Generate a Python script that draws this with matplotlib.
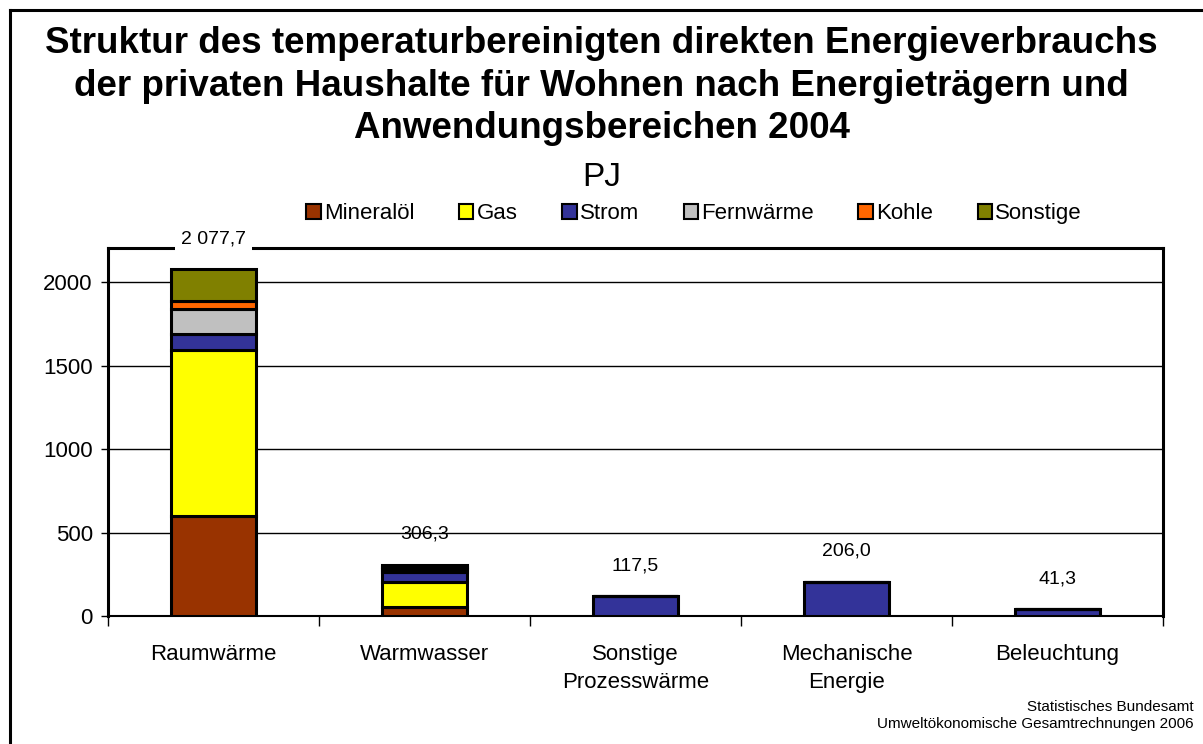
import numpy as np
import matplotlib.pyplot as plt
from matplotlib.patches import Rectangle
from matplotlib.lines import Line2D

plt.rcParams['font.family'] = ['Liberation Sans', 'DejaVu Sans']

# data (PJ)
categories = ["Raumwärme", "Warmwasser", "Sonstige\nProzesswärme", "Mechanische\nEnergie", "Beleuchtung"]
carriers = ["Mineralöl", "Gas", "Strom", "Fernwärme", "Kohle", "Sonstige"]
mineraloel = [599.0, 52.0, 0.0, 0.0, 0.0]
gas = [994.0, 150.0, 0.0, 0.0, 0.0]
strom = [96.0, 62.0, 117.5, 206.0, 41.3]
fernwaerme = [150.0, 20.0, 0.0, 0.0, 0.0]
kohle = [48.0, 8.0, 0.0, 0.0, 0.0]
sonstige = [190.7, 14.3, 0.0, 0.0, 0.0]
totals = [2077.7, 306.3, 117.5, 206.0, 41.3]
total_labels = ["2 077,7", "306,3", "117,5", "206,0", "41,3"]

colors = ["#993300", "#FFFF00", "#333399", "#C0C0C0", "#FF6600", "#808000"]
series = [mineraloel, gas, strom, fernwaerme, kohle, sonstige]

fig = plt.figure(figsize=(12.03, 7.44), dpi=100)
ax = fig.add_axes([0.0898, 0.172, 0.877, 0.4946])

y_top = 2204

x = np.arange(len(categories))
bottom = np.zeros(len(categories))
for name, vals, col in zip(carriers, series, colors):
    vals = np.array(vals)
    ax.bar(x, vals, width=0.4, bottom=bottom, color=col, edgecolor="black",
           linewidth=2.2, label=name, zorder=3)
    bottom += vals

# totals above the bars; the one that reaches over the frame gets a white box
for xi, t, lab in zip(x, totals, total_labels):
    box = None
    if t > 0.85 * y_top:
        box = dict(facecolor="white", edgecolor="none", pad=4)
    ax.annotate(lab, (xi, t), xytext=(0, 22), textcoords="offset points",
                ha="center", va="center", fontsize=14, zorder=6,
                bbox=box, annotation_clip=False)

ax.set_xlim(-0.5, 4.5)
ax.set_ylim(0, y_top)
ax.set_yticks([0, 500, 1000, 1500, 2000])
ax.yaxis.grid(True, color="black", linewidth=1.0, zorder=0)
ax.set_axisbelow(True)

ax.set_xticks(x)
ax.set_xticklabels(categories, fontsize=16, linespacing=1.45)
ax.set_xticks(np.arange(-0.5, 5.0, 1.0), minor=True)
ax.tick_params(axis="x", which="major", length=0, pad=20)
ax.tick_params(axis="x", which="minor", length=7, width=1.0, direction="out")
ax.tick_params(axis="y", labelsize=16, length=5, width=1.0, direction="out", pad=6)

for side in ["left", "right", "top"]:
    ax.spines[side].set_linewidth(2.2)
    ax.spines[side].set_color("black")
ax.spines["bottom"].set_linewidth(1.5)
ax.spines["top"].set_zorder(2)

# titles
fig.text(0.5, 0.884, "Struktur des temperaturbereinigten direkten Energieverbrauchs\n"
         "der privaten Haushalte für Wohnen nach Energieträgern und\n"
         "Anwendungsbereichen 2004", ha="center", va="center", fontsize=26.5,
         fontweight="bold", linespacing=1.28)
fig.text(0.5, 0.762, "PJ", ha="center", va="center", fontsize=24)

handles = [Rectangle((0, 0), 1, 1, facecolor=c, edgecolor="black", linewidth=1.5) for c in colors]
fig.legend(handles, carriers, loc="center", bbox_to_anchor=(0.577, 0.7124), ncol=6,
           frameon=False, fontsize=16, handlelength=0.65, handleheight=0.65,
           handletextpad=0.15, columnspacing=2.0)

fig.text(0.992, 0.0497, "Statistisches Bundesamt", ha="right", va="center", fontsize=11)
fig.text(0.992, 0.0269, "Umweltökonomische Gesamtrechnungen 2006", ha="right", va="center", fontsize=11)

# outer frame, only left and top edges are visible in the picture
fig.lines.append(Line2D([9.5 / 1203, 9.5 / 1203], [0, 1 - 9.5 / 744], transform=fig.transFigure,
                        color="black", linewidth=2.2))
fig.lines.append(Line2D([9.5 / 1203, 1], [1 - 9.5 / 744, 1 - 9.5 / 744], transform=fig.transFigure,
                        color="black", linewidth=2.2))

fig.savefig("out.png", dpi=100)
